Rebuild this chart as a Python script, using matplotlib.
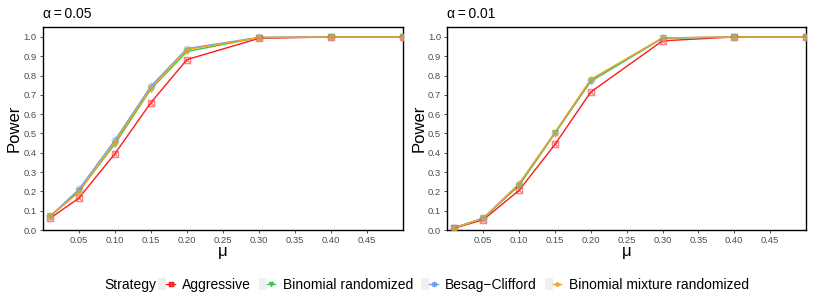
import numpy as np
import matplotlib
matplotlib.use("Agg")
import matplotlib.pyplot as plt
from matplotlib.path import Path
from matplotlib.patches import Rectangle
from matplotlib.legend_handler import HandlerTuple

plt.rcParams['font.family'] = ['Liberation Sans', 'DejaVu Sans']

# data
mu = [0.01, 0.05, 0.10, 0.15, 0.20, 0.30, 0.40, 0.50]
strategies = ["Aggressive", "Binomial randomized", "Besag\u2212Clifford", "Binomial mixture randomized"]

power_005 = {
    "Aggressive": [0.060, 0.165, 0.395, 0.660, 0.883, 0.993, 1.0, 1.0],
    "Binomial randomized": [0.070, 0.200, 0.445, 0.730, 0.925, 0.997, 1.0, 1.0],
    "Besag\u2212Clifford": [0.070, 0.210, 0.465, 0.745, 0.940, 0.998, 1.0, 1.0],
    "Binomial mixture randomized": [0.070, 0.195, 0.455, 0.735, 0.935, 0.997, 1.0, 1.0],
}
power_001 = {
    "Aggressive": [0.010, 0.053, 0.205, 0.443, 0.715, 0.980, 1.0, 1.0],
    "Binomial randomized": [0.012, 0.060, 0.230, 0.500, 0.770, 0.993, 1.0, 1.0],
    "Besag\u2212Clifford": [0.012, 0.062, 0.238, 0.505, 0.778, 0.995, 1.0, 1.0],
    "Binomial mixture randomized": [0.012, 0.060, 0.240, 0.505, 0.780, 0.995, 1.0, 1.0],
}
panel_titles = ["\u03b1\u2009=\u20090.05", "\u03b1\u2009=\u20090.01"]

# square with an x inside (ggplot shape 7)
sq_x = Path([(-1, -1), (1, -1), (1, 1), (-1, 1), (-1, -1), (-1, -1), (1, 1), (-1, 1), (1, -1)],
            [Path.MOVETO, Path.LINETO, Path.LINETO, Path.LINETO, Path.CLOSEPOLY,
             Path.MOVETO, Path.LINETO, Path.MOVETO, Path.LINETO])

styles = {
    "Aggressive": dict(color="#FF1A1A", marker=sq_x, ms=4.5, mfc="none"),
    "Binomial randomized": dict(color="#3CC83C", marker="v", ms=4.5, mfc="#3CC83C"),
    "Besag\u2212Clifford": dict(color="#6F9BEA", marker=(8, 2, 0), ms=5.5, mfc="none"),
    "Binomial mixture randomized": dict(color="#F7A21B", marker="o", ms=3.5, mfc="#F7A21B"),
}

fig = plt.figure(figsize=(8.17, 3.07), dpi=100)
ax1 = fig.add_axes([0.0523, 0.2508, 0.4414, 0.6602])
ax2 = fig.add_axes([0.5475, 0.2508, 0.4390, 0.6602])

for ax, data, title in [(ax1, power_005, panel_titles[0]), (ax2, power_001, panel_titles[1])]:
    for s in strategies:
        st = styles[s]
        ax.plot(mu, data[s], color=st["color"], lw=1.0, zorder=2)
        ax.plot(mu, data[s], ls="none", marker=st["marker"], ms=st["ms"],
                mec=st["color"], mfc=st["mfc"], mew=0.9, alpha=0.55, zorder=3)
    ax.set_xlim(0, 0.5)
    ax.set_ylim(0, 1.05)
    ax.set_xticks([0.05, 0.10, 0.15, 0.20, 0.25, 0.30, 0.35, 0.40, 0.45])
    ax.set_xticklabels(["0.05", "0.10", "0.15", "0.20", "0.25", "0.30", "0.35", "0.40", "0.45"])
    ax.set_yticks(np.arange(0, 1.01, 0.1))
    ax.set_yticklabels([f"{v:.1f}" for v in np.arange(0, 1.01, 0.1)])
    ax.tick_params(labelsize=6.8, colors="#333333", length=2.5, width=0.6, pad=2)
    for lab in ax.get_xticklabels() + ax.get_yticklabels():
        lab.set_color("#4D4D4D")
    for sp in ax.spines.values():
        sp.set_linewidth(1.0)
        sp.set_color("black")
    ax.set_xlabel("\u03bc", fontsize=12, labelpad=-1)
    ax.set_ylabel("Power", fontsize=12, labelpad=1)
    ax.set_title(title, loc="left", fontsize=10, pad=7)

# legend
handles = []
for s in strategies:
    st = styles[s]
    bg = Rectangle((0, 0), 1, 1, facecolor="#EFEFEF", edgecolor="none")
    ln = plt.Line2D([], [], color=st["color"], lw=1.0, marker=st["marker"], ms=st["ms"] * 0.7,
                    mec=st["color"], mfc=st["mfc"], mew=0.8)
    handles.append((bg, ln))

fig.text(104 / 817, 1 - 285 / 307, "Strategy", fontsize=10, va="center", ha="left")
fig.legend(handles, strategies, loc="center left", bbox_to_anchor=(158 / 817, 1 - 285 / 307),
           ncol=4, frameon=False, fontsize=10, handlelength=1.2, handleheight=0.95,
           handletextpad=0.55, columnspacing=0.55, borderpad=0, borderaxespad=0,
           handler_map={tuple: HandlerTuple(ndivide=None)})

fig.savefig("out.png", dpi=100)
